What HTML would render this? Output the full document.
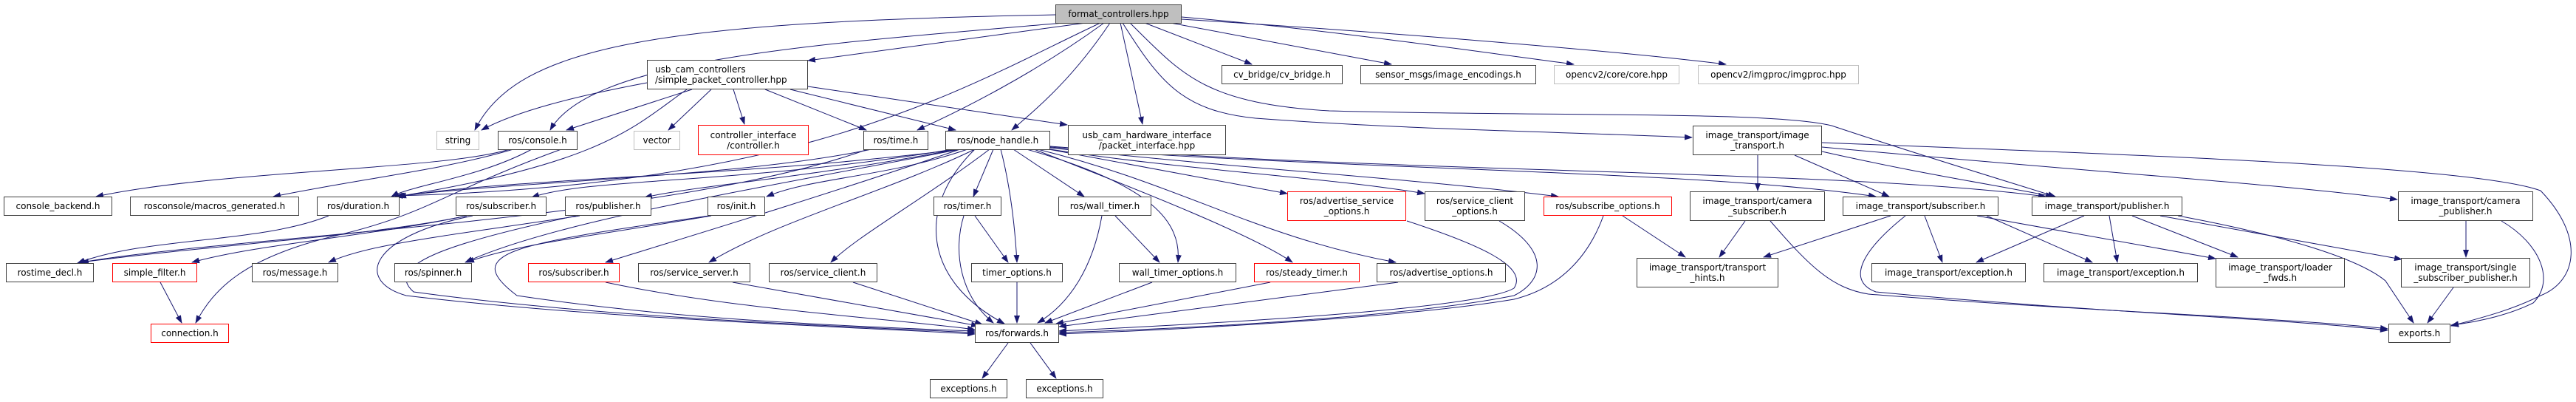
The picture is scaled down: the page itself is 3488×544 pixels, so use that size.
<!DOCTYPE html>
<html><head><meta charset="utf-8"><style>
body{margin:0;width:3488px;height:544px;background:#fff;position:relative;overflow:hidden;font-family:"DejaVu Sans","Liberation Sans",sans-serif;}
svg{position:absolute;left:0;top:0}
.n{position:absolute;box-sizing:border-box;border:1px solid #404040;background:#fff;font-size:12px;line-height:14px;color:#000;display:flex;align-items:center;justify-content:center;text-align:center;white-space:nowrap}
.r{border-color:#ff0000}
.g{border-color:#bfbfbf}
.l{flex-direction:column;align-items:center}
</style></head><body>
<svg width="3488" height="544" viewBox="0 0 3488 544">
<defs><marker id="a" markerWidth="11" markerHeight="8" refX="10" refY="4" orient="auto" markerUnits="userSpaceOnUse"><path d="M0,0 L11,4 L0,8 z" fill="#191970"/></marker></defs>
<g fill="none" stroke="#191970" stroke-width="1" marker-end="url(#a)">
<path d="M1429,20 C900,30 700,60 643,176"/>
<path d="M1440,31 C1100,60 800,80 745,176"/>
<path d="M1470,31 L1094,82"/>
<path d="M1490,31 C1300,120 1100,250 536,265"/>
<path d="M1495,31 C1400,100 1300,150 1242,176"/>
<path d="M1503,31 C1450,110 1400,150 1370,176"/>
<path d="M1517,31 L1547,168"/>
<path d="M1520,31 C1570,110 1600,150 1700,160 C1900,175 2100,178 2291,186"/>
<path d="M1530,31 C1600,100 1630,140 1800,150 C2100,158 2400,150 2480,170 C2600,210 2700,240 2783,266"/>
<path d="M1550,31 L1695,87"/>
<path d="M1585,31 L1884,87"/>
<path d="M1600,23 C1800,40 2000,70 2131,87"/>
<path d="M1600,26 C1900,45 2200,70 2337,87"/>
<path d="M876,112 C780,130 700,150 652,176"/>
<path d="M937,121 L767,176"/>
<path d="M963,121 L905,176"/>
<path d="M993,121 L1008,168"/>
<path d="M1036,121 L1173,176"/>
<path d="M1070,121 L1294,176"/>
<path d="M1094,117 L1445,169"/>
<path d="M930,121 C860,170 820,220 538,266"/>
<path d="M690,202 C600,230 300,230 130,266"/>
<path d="M695,202 C600,230 500,240 370,266"/>
<path d="M720,202 C650,240 560,250 530,266"/>
<path d="M1180,202 C1000,240 700,245 535,266"/>
<path d="M1175,202 C900,300 300,320 105,356"/>
<path d="M445,292 C350,330 200,320 105,356"/>
<path d="M1300,202 C1000,240 700,240 540,266"/>
<path d="M1290,202 C1000,250 800,240 720,267"/>
<path d="M1295,202 C1100,240 950,250 873,267"/>
<path d="M1310,202 C1200,240 1100,240 1038,266"/>
<path d="M1345,202 L1318,266"/>
<path d="M1355,202 C1370,260 1375,320 1377,355"/>
<path d="M1320,202 C1240,280 1250,380 1360,438"/>
<path d="M1372,202 L1468,266"/>
<path d="M1390,202 C1560,250 1600,300 1595,355"/>
<path d="M1400,202 C1550,260 1700,320 1750,355"/>
<path d="M1405,202 C1600,250 1700,320 1890,355"/>
<path d="M1420,202 L1743,262"/>
<path d="M1422,202 C1600,230 1800,240 1929,262"/>
<path d="M1422,200 C1700,230 1900,240 2110,266"/>
<path d="M1422,199 C1800,230 2300,230 2540,266"/>
<path d="M1422,198 C1900,235 2500,230 2770,266"/>
<path d="M1300,202 C1000,260 750,300 630,355"/>
<path d="M1300,202 C1100,270 900,330 820,355"/>
<path d="M1320,202 C1200,260 1050,300 960,355"/>
<path d="M1340,202 C1250,270 1160,320 1125,355"/>
<path d="M632,292 C500,320 350,330 260,355"/>
<path d="M632,292 C500,320 300,330 110,355"/>
<path d="M640,292 C500,320 480,380 550,400 C800,430 1100,440 1320,452"/>
<path d="M785,292 C600,320 500,330 445,355"/>
<path d="M780,292 C600,330 520,360 560,395 C800,428 1100,440 1320,450"/>
<path d="M760,202 C600,260 580,290 450,320 C330,350 290,390 265,437"/>
<path d="M217,382 L246,437"/>
<path d="M963,292 C800,320 700,330 632,355"/>
<path d="M960,292 C700,330 620,340 700,400 C900,430 1100,440 1320,448"/>
<path d="M1320,292 L1365,355"/>
<path d="M1305,292 C1290,340 1300,400 1345,437"/>
<path d="M1377,382 L1377,437"/>
<path d="M1510,292 L1570,355"/>
<path d="M1492,292 C1480,360 1450,410 1405,437"/>
<path d="M1560,382 L1415,437"/>
<path d="M1720,382 L1430,438"/>
<path d="M1893,382 L1434,442"/>
<path d="M820,382 C1000,420 1200,430 1320,446"/>
<path d="M992,382 L1325,441"/>
<path d="M1155,382 L1330,439"/>
<path d="M1905,299 C2000,330 2070,360 2050,390 C2000,420 1600,440 1434,448"/>
<path d="M2030,299 C2100,340 2090,380 2050,400 C1900,430 1600,445 1434,450"/>
<path d="M2171,292 C2150,350 2110,390 2050,405 C1900,430 1600,446 1434,452"/>
<path d="M2197,292 L2282,348"/>
<path d="M1365,464 L1330,512"/>
<path d="M1395,464 L1430,512"/>
<path d="M2380,210 L2380,258"/>
<path d="M2430,210 L2558,266"/>
<path d="M2467,205 C2600,235 2700,250 2780,266"/>
<path d="M2467,199 C2800,230 3100,250 3246,270"/>
<path d="M2467,193 C2900,210 3350,225 3440,258 C3500,320 3490,380 3440,400 C3400,420 3360,430 3319,441"/>
<path d="M2363,299 L2328,348"/>
<path d="M2397,299 C2450,360 2480,390 2530,398 C2800,420 3100,430 3233,445"/>
<path d="M2560,292 L2388,348"/>
<path d="M2606,292 L2630,355"/>
<path d="M2580,292 C2520,340 2500,380 2540,395 C2800,420 3100,432 3233,447"/>
<path d="M2677,292 L3000,350"/>
<path d="M2690,292 L2833,355"/>
<path d="M2822,292 L2676,355"/>
<path d="M2856,292 L2867,355"/>
<path d="M2887,292 L3030,348"/>
<path d="M2925,292 L3252,351"/>
<path d="M2949,292 C3100,320 3195,351 3230,380 L3268,437"/>
<path d="M3339,299 L3339,348"/>
<path d="M3387,299 C3440,330 3460,380 3430,410 C3400,425 3360,435 3319,440"/>
<path d="M3322,389 L3287,437"/>
</g></svg>

<div class="n" style="left:1429px;top:6px;width:171px;height:26px;background:#bfbfbf">format_controllers.hpp</div>

<div class="n l" style="left:876px;top:81px;width:218px;height:40px;align-items:flex-start;padding-left:10px"><span>usb_cam_controllers</span><span>/simple_packet_controller.hpp</span></div>
<div class="n" style="left:1654px;top:88px;width:164px;height:26px">cv_bridge/cv_bridge.h</div>
<div class="n" style="left:1842px;top:88px;width:238px;height:26px">sensor_msgs/image_encodings.h</div>
<div class="n g" style="left:2104px;top:88px;width:170px;height:26px">opencv2/core/core.hpp</div>
<div class="n g" style="left:2299px;top:88px;width:218px;height:26px">opencv2/imgproc/imgproc.hpp</div>

<div class="n g" style="left:591px;top:177px;width:58px;height:26px">string</div>
<div class="n" style="left:674px;top:177px;width:108px;height:26px">ros/console.h</div>
<div class="n g" style="left:858px;top:177px;width:63px;height:26px">vector</div>
<div class="n r l" style="left:945px;top:169px;width:150px;height:41px"><span>controller_interface</span><span>/controller.h</span></div>
<div class="n" style="left:1169px;top:177px;width:88px;height:26px">ros/time.h</div>
<div class="n" style="left:1280px;top:177px;width:142px;height:26px">ros/node_handle.h</div>
<div class="n l" style="left:1446px;top:169px;width:214px;height:41px"><span>usb_cam_hardware_interface</span><span>/packet_interface.hpp</span></div>
<div class="n l" style="left:2292px;top:170px;width:175px;height:40px"><span>image_transport/image</span><span>_transport.h</span></div>

<div class="n" style="left:5px;top:266px;width:147px;height:26px">console_backend.h</div>
<div class="n" style="left:176px;top:266px;width:229px;height:26px">rosconsole/macros_generated.h</div>
<div class="n" style="left:429px;top:266px;width:112px;height:26px">ros/duration.h</div>
<div class="n" style="left:617px;top:266px;width:123px;height:26px">ros/subscriber.h</div>
<div class="n" style="left:765px;top:266px;width:117px;height:26px">ros/publisher.h</div>
<div class="n" style="left:958px;top:266px;width:78px;height:26px">ros/init.h</div>
<div class="n" style="left:1264px;top:266px;width:92px;height:26px">ros/timer.h</div>
<div class="n" style="left:1433px;top:266px;width:126px;height:26px">ros/wall_timer.h</div>
<div class="n r l" style="left:1743px;top:259px;width:161px;height:40px"><span>ros/advertise_service</span><span>_options.h</span></div>
<div class="n l" style="left:1929px;top:259px;width:136px;height:40px"><span>ros/service_client</span><span>_options.h</span></div>
<div class="n r" style="left:2090px;top:266px;width:174px;height:26px">ros/subscribe_options.h</div>
<div class="n l" style="left:2288px;top:259px;width:183px;height:40px"><span>image_transport/camera</span><span>_subscriber.h</span></div>
<div class="n" style="left:2495px;top:266px;width:211px;height:26px">image_transport/subscriber.h</div>
<div class="n" style="left:2751px;top:266px;width:204px;height:26px">image_transport/publisher.h</div>
<div class="n l" style="left:3247px;top:259px;width:183px;height:40px"><span>image_transport/camera</span><span>_publisher.h</span></div>

<div class="n" style="left:8px;top:356px;width:119px;height:26px">rostime_decl.h</div>
<div class="n r" style="left:152px;top:356px;width:115px;height:26px">simple_filter.h</div>
<div class="n" style="left:341px;top:356px;width:117px;height:26px">ros/message.h</div>
<div class="n" style="left:534px;top:356px;width:105px;height:26px">ros/spinner.h</div>
<div class="n r" style="left:715px;top:356px;width:124px;height:26px">ros/subscriber.h</div>
<div class="n" style="left:864px;top:356px;width:152px;height:26px">ros/service_server.h</div>
<div class="n" style="left:1041px;top:356px;width:147px;height:26px">ros/service_client.h</div>
<div class="n" style="left:1315px;top:356px;width:124px;height:26px">timer_options.h</div>
<div class="n" style="left:1515px;top:356px;width:159px;height:26px">wall_timer_options.h</div>
<div class="n r" style="left:1698px;top:356px;width:143px;height:26px">ros/steady_timer.h</div>
<div class="n" style="left:1864px;top:356px;width:175px;height:26px">ros/advertise_options.h</div>
<div class="n l" style="left:2216px;top:349px;width:192px;height:40px"><span>image_transport/transport</span><span>_hints.h</span></div>
<div class="n" style="left:2534px;top:356px;width:209px;height:26px">image_transport/exception.h</div>
<div class="n" style="left:2767px;top:356px;width:209px;height:26px">image_transport/exception.h</div>
<div class="n l" style="left:3000px;top:349px;width:175px;height:40px"><span>image_transport/loader</span><span>_fwds.h</span></div>
<div class="n l" style="left:3251px;top:349px;width:175px;height:40px"><span>image_transport/single</span><span>_subscriber_publisher.h</span></div>

<div class="n r" style="left:204px;top:438px;width:106px;height:26px">connection.h</div>
<div class="n" style="left:1320px;top:438px;width:114px;height:26px">ros/forwards.h</div>
<div class="n" style="left:3234px;top:438px;width:84px;height:26px">exports.h</div>

<div class="n" style="left:1259px;top:513px;width:105px;height:26px">exceptions.h</div>
<div class="n" style="left:1389px;top:513px;width:105px;height:26px">exceptions.h</div>
</body></html>
